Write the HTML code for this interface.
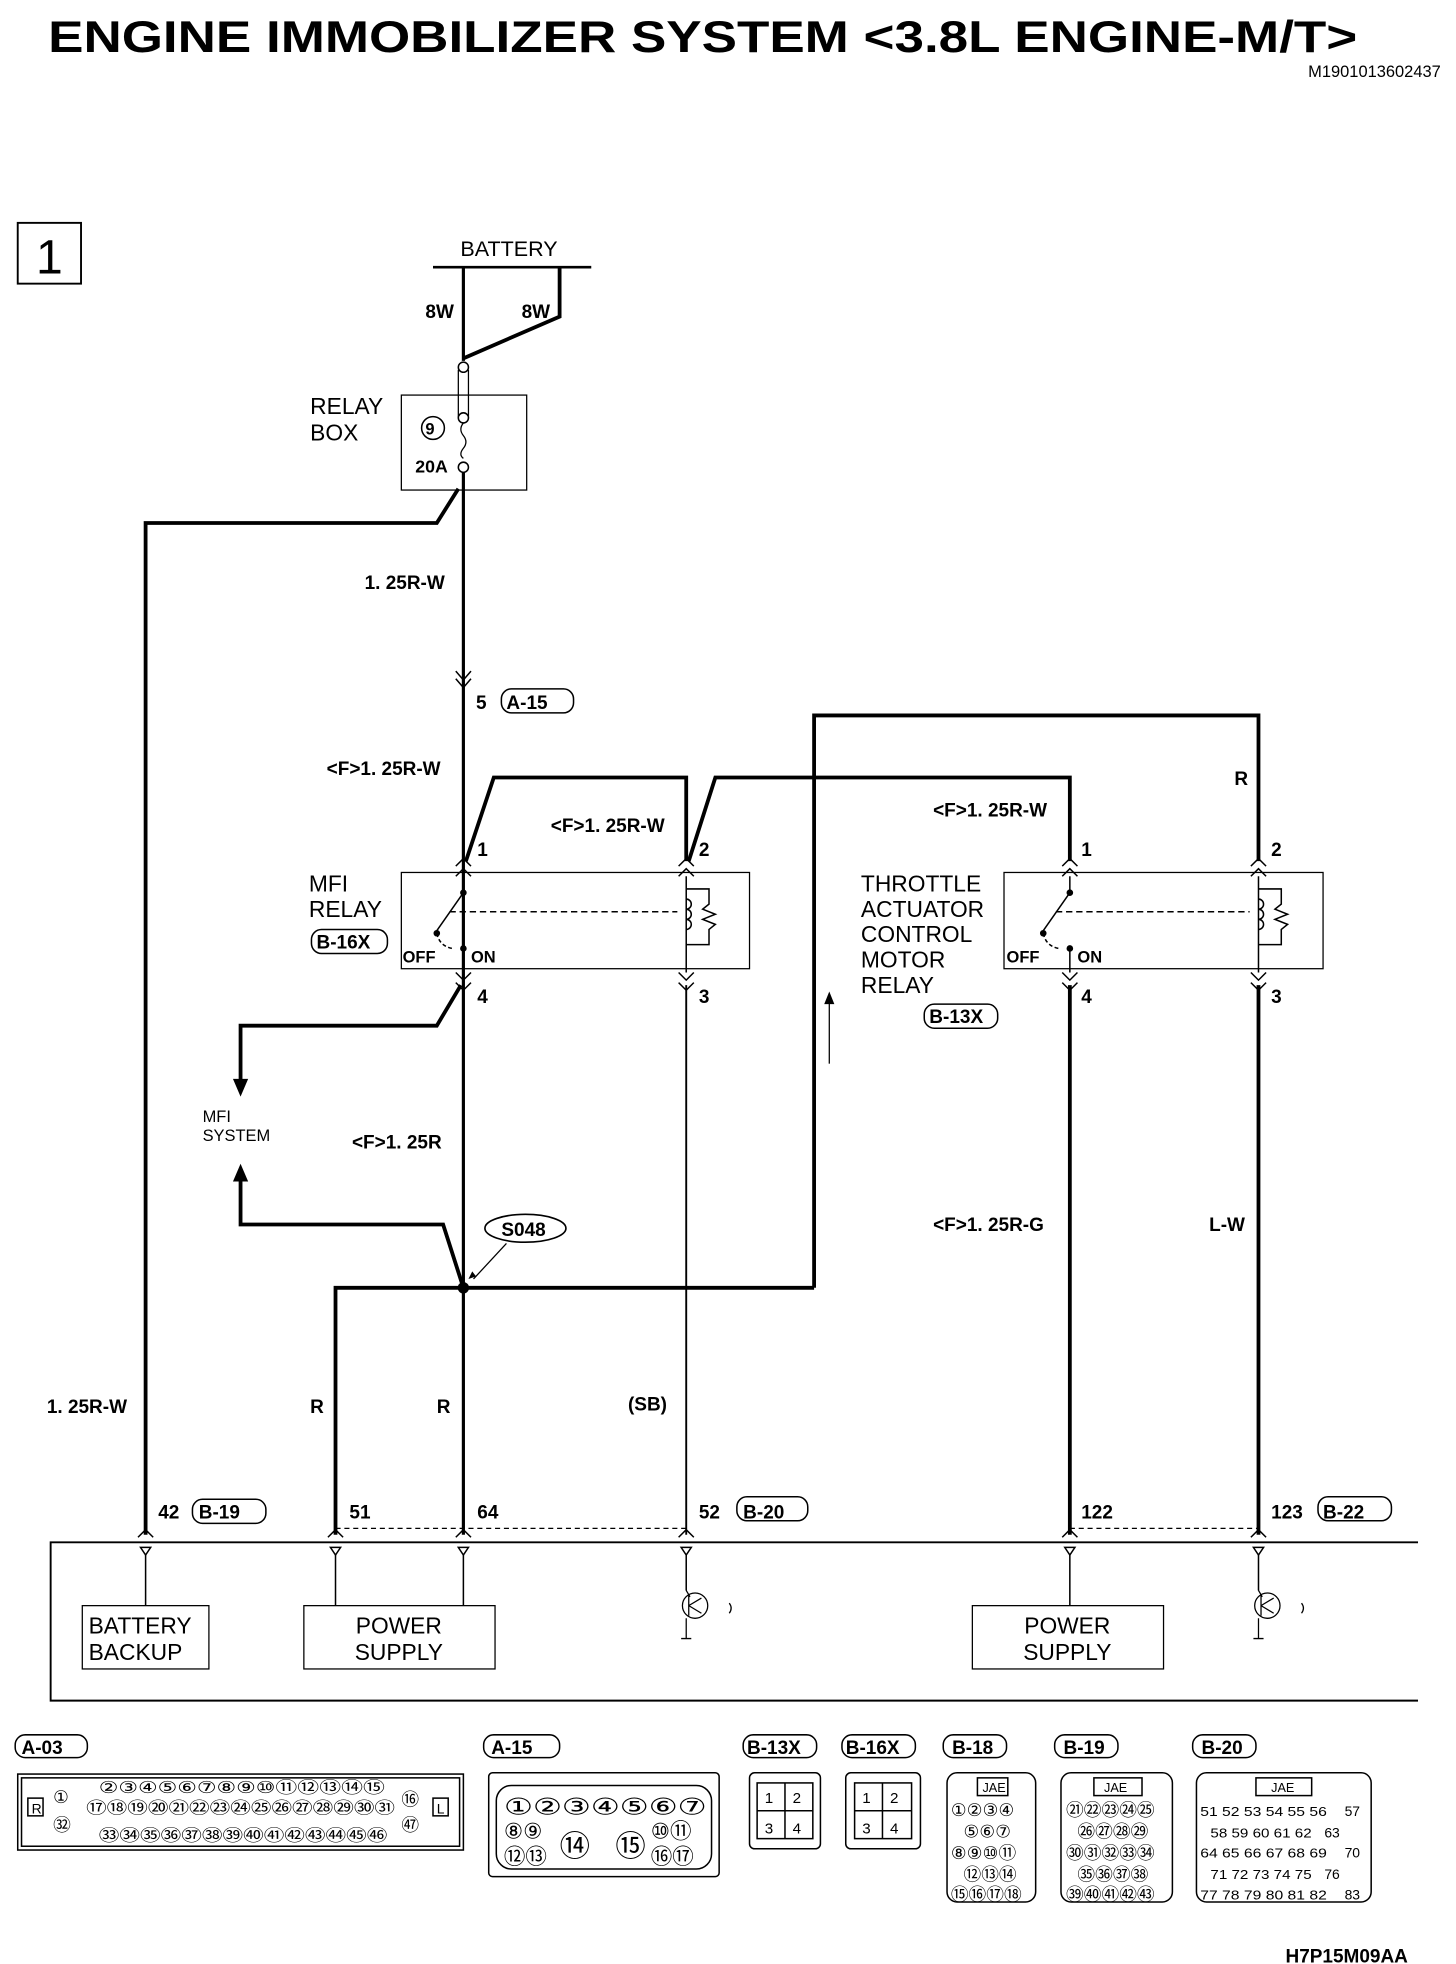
<!DOCTYPE html>
<html><head><meta charset="utf-8"><style>
html,body{margin:0;padding:0;background:#fff}
svg{display:block}
text{font-family:"Liberation Sans",sans-serif;fill:#000}
.c{font-family:"Liberation Sans","Noto Sans CJK JP",sans-serif}
.n{font-family:"Liberation Sans Narrow","Liberation Sans",sans-serif;font-weight:bold}
</style></head><body>
<svg width="1456" height="1964" viewBox="0 0 1150 1551" preserveAspectRatio="none" xmlns="http://www.w3.org/2000/svg">
<g fill="none" stroke="#000">
<!-- header -->
<rect x="14" y="176" width="50" height="48" stroke-width="1.5"/>
<line x1="342" y1="211" x2="467" y2="211" stroke-width="2"/>
<!-- battery wires -->
<polyline points="366,211 366,285" stroke-width="2.5"/>
<polyline points="442,211 442,250 366,283" stroke-width="3"/>
<rect x="317" y="312" width="99" height="75" stroke-width="1"/>
<circle cx="366" cy="290" r="4" fill="#fff" stroke-width="1.2"/>
<line x1="362" y1="292" x2="362" y2="330" stroke-width="1"/><line x1="370" y1="292" x2="370" y2="330" stroke-width="1"/>
<circle cx="366" cy="330" r="4" fill="#fff" stroke-width="1.2"/>
<path d="M366 334 q-4 5 0 10 q4 5 0 10 q-4 5 0 8" stroke-width="1"/>
<circle cx="366" cy="369" r="4" fill="#fff" stroke-width="1.2"/>
<circle cx="342" cy="338" r="9" stroke-width="1.2"/>
<!-- main verticals -->
<line x1="366" y1="373" x2="366" y2="1212" stroke-width="2.5"/>
<polyline points="362,386 345,413 115,413 115,1212" stroke-width="3"/>
<path d="M360 530 l6 7 l6 -7 M360 536 l6 7 l6 -7" stroke-width="1.2"/>
<!-- relay top wiring -->
<polyline points="368,680 390,614 542,614 542,680" stroke-width="3"/>
<polyline points="544,680 565,614 845,614 845,680" stroke-width="3"/>
<polyline points="643,1017 643,565 994,565 994,680" stroke-width="3"/>
<!-- MFI relay -->
<rect x="317" y="689" width="275" height="76" stroke-width="1"/>
<rect x="793" y="689" width="252" height="76" stroke-width="1"/>
<g stroke-width="1.2">
<path d="M360 684 l6 -6 l6 6 M360 692 l6 -6 l6 6 M536 684 l6 -6 l6 6 M536 692 l6 -6 l6 6 M839 684 l6 -6 l6 6 M839 692 l6 -6 l6 6 M988 684 l6 -6 l6 6 M988 692 l6 -6 l6 6"/>
<path d="M360 768 l6 6 l6 -6 M360 776 l6 6 l6 -6 M536 768 l6 6 l6 -6 M536 776 l6 6 l6 -6 M839 768 l6 6 l6 -6 M839 776 l6 6 l6 -6 M988 768 l6 6 l6 -6 M988 776 l6 6 l6 -6"/>
</g>
<!-- switch contacts -->
<g stroke-width="1.2">
<line x1="366" y1="692" x2="366" y2="703"/><circle cx="366" cy="705" r="2" fill="#000"/>
<line x1="366" y1="705" x2="345" y2="735"/><circle cx="345" cy="737" r="2" fill="#000"/>
<path d="M345 737 q2 10 12 12" stroke-dasharray="3,2"/>
<circle cx="366" cy="749" r="2" fill="#000"/><line x1="366" y1="749" x2="366" y2="768"/>
<line x1="355" y1="720" x2="535" y2="720" stroke-dasharray="5,3"/>
<line x1="542" y1="692" x2="542" y2="768"/>
<path d="M542 702 h18 v12 l-5 4 l10 4 l-10 4 l10 4 l-5 4 v12 h-18"/>
<path d="M542 710 a4 4 0 1 1 0 8 a4 4 0 1 1 0 8 a4 4 0 1 1 0 8"/>
<line x1="845" y1="692" x2="845" y2="703"/><circle cx="845" cy="705" r="2" fill="#000"/>
<line x1="845" y1="705" x2="824" y2="735"/><circle cx="824" cy="737" r="2" fill="#000"/>
<path d="M824 737 q2 10 12 12" stroke-dasharray="3,2"/>
<circle cx="845" cy="749" r="2" fill="#000"/><line x1="845" y1="749" x2="845" y2="768"/>
<line x1="834" y1="720" x2="987" y2="720" stroke-dasharray="5,3"/>
<line x1="994" y1="692" x2="994" y2="768"/>
<path d="M994 702 h18 v12 l-5 4 l10 4 l-10 4 l10 4 l-5 4 v12 h-18"/>
<path d="M994 710 a4 4 0 1 1 0 8 a4 4 0 1 1 0 8 a4 4 0 1 1 0 8"/>
</g>
<!-- below relays -->
<polyline points="364,778 345,810 190,810 190,855" stroke-width="3"/>
<polyline points="190,930 190,967 350,967 366,1017" stroke-width="3"/>
<polyline points="265,1212 265,1017 643,1017" stroke-width="3"/>
<line x1="542" y1="778" x2="542" y2="1212" stroke-width="1.5"/>
<line x1="845" y1="778" x2="845" y2="1212" stroke-width="3"/>
<line x1="994" y1="778" x2="994" y2="1212" stroke-width="3"/>
<line x1="655" y1="790" x2="655" y2="840" stroke-width="1"/>
<ellipse cx="415" cy="970" rx="32" ry="11" stroke-width="1.3"/>
<line x1="400" y1="982" x2="374" y2="1010" stroke-width="1"/>
<!-- dashed -->
<line x1="265" y1="1207" x2="542" y2="1207" stroke-dasharray="4,3" stroke-width="1"/>
<line x1="845" y1="1207" x2="994" y2="1207" stroke-dasharray="4,3" stroke-width="1"/>
<g stroke-width="1.2">
<path d="M109 1214 l6 -6 l6 6 M259 1214 l6 -6 l6 6 M360 1214 l6 -6 l6 6 M536 1214 l6 -6 l6 6 M839 1214 l6 -6 l6 6 M988 1214 l6 -6 l6 6"/>
<path d="M111 1222 h8 l-4 6 z M261 1222 h8 l-4 6 z M362 1222 h8 l-4 6 z M538 1222 h8 l-4 6 z M841 1222 h8 l-4 6 z M990 1222 h8 l-4 6 z"/>
<path d="M115 1228 v40 M265 1228 v40 M366 1228 v40 M845 1228 v40 M542 1228 v28 M994 1228 v28"/>
</g>
<polyline points="1120,1218 40,1218 40,1343 1120,1343" stroke-width="1.5"/>
<rect x="65" y="1268" width="100" height="50" stroke-width="1"/>
<rect x="240" y="1268" width="151" height="50" stroke-width="1"/>
<rect x="768" y="1268" width="151" height="50" stroke-width="1"/>
<g stroke-width="1">
<circle cx="549" cy="1268" r="10"/><path d="M544 1260 v16 M542 1256 l3 5 M544 1268 l10 -6 M544 1268 l10 6 M542 1278 v16 M538 1294 h8 M576 1266 q3 4 0 8"/>
<circle cx="1001" cy="1268" r="10"/><path d="M996 1260 v16 M994 1256 l3 5 M996 1268 l10 -6 M996 1268 l10 6 M994 1278 v16 M990 1294 h8 M1028 1266 q3 4 0 8"/>
</g>
<!-- connector boxes -->
<g stroke-width="1.2">
<rect x="12" y="1370" width="57" height="18" rx="8"/>
<rect x="382" y="1370" width="60" height="18" rx="8"/>
<rect x="587" y="1370" width="58" height="18" rx="8"/>
<rect x="665" y="1370" width="58" height="18" rx="8"/>
<rect x="745" y="1370" width="50" height="18" rx="8"/>
<rect x="833" y="1370" width="50" height="18" rx="8"/>
<rect x="942" y="1370" width="50" height="18" rx="8"/>
<rect x="14" y="1401" width="352" height="60"/><rect x="17" y="1404" width="346" height="54"/>
<rect x="386" y="1400" width="182" height="82" rx="3"/><rect x="392" y="1410" width="170" height="66" rx="12"/>
<rect x="592" y="1400" width="56" height="60" rx="4"/><rect x="598" y="1408" width="44" height="44"/><line x1="598" y1="1430" x2="642" y2="1430"/><line x1="620" y1="1408" x2="620" y2="1452"/>
<rect x="668" y="1400" width="59" height="60" rx="4"/><rect x="675" y="1408" width="45" height="44"/><line x1="675" y1="1430" x2="720" y2="1430"/><line x1="697" y1="1408" x2="697" y2="1452"/>
<rect x="748" y="1400" width="70" height="102" rx="8"/><rect x="772" y="1404" width="24" height="14"/>
<rect x="838" y="1400" width="88" height="102" rx="8"/><rect x="864" y="1404" width="38" height="14"/>
<rect x="945" y="1400" width="138" height="102" rx="8"/><rect x="992" y="1404" width="44" height="14"/>
<rect x="22" y="1420" width="12" height="14"/><rect x="342" y="1420" width="12" height="14"/>
</g>
</g>
<!-- filled shapes -->
<circle cx="366" cy="1017" r="4.5" fill="#000"/>
<path d="M184 852 h12 l-6 14 z M184 933 h12 l-6 -14 z M651 793 l4 -10 l4 10 z M370 1010 l6 -2 l-3 -4 z" fill="#000"/>
<!-- text -->
<text x="38" y="41" font-size="35" font-weight="bold" textLength="1034" lengthAdjust="spacingAndGlyphs">ENGINE IMMOBILIZER SYSTEM &lt;3.8L ENGINE-M/T&gt;</text>
<text x="1138" y="61" font-size="13" text-anchor="end">M1901013602437</text>
<text x="39" y="216" font-size="38" text-anchor="middle">1</text>
<text x="402" y="202" font-size="17" text-anchor="middle">BATTERY</text>
<g class="n" font-size="15">
<text x="336" y="251">8W</text><text x="412" y="251">8W</text>
<text x="336" y="343" font-size="13">9</text><text x="328" y="373" font-size="14">20A</text>
<text x="288" y="465">1. 25R-W</text>
<text x="376" y="560">5</text><text x="400" y="560">A-15</text>
<text x="258" y="612">&lt;F&gt;1. 25R-W</text>
<text x="435" y="657">&lt;F&gt;1. 25R-W</text>
<text x="737" y="645">&lt;F&gt;1. 25R-W</text>
<text x="975" y="620">R</text>
<text x="377" y="676">1</text><text x="552" y="676">2</text><text x="854" y="676">1</text><text x="1004" y="676">2</text>
<text x="377" y="792">4</text><text x="552" y="792">3</text><text x="854" y="792">4</text><text x="1004" y="792">3</text>
<text x="318" y="760" font-size="13">OFF</text><text x="372" y="760" font-size="13">ON</text>
<text x="795" y="760" font-size="13">OFF</text><text x="851" y="760" font-size="13">ON</text>
<text x="250" y="749">B-16X</text><text x="734" y="808">B-13X</text>
<text x="278" y="907">&lt;F&gt;1. 25R</text>
<text x="396" y="976">S048</text>
<text x="737" y="972">&lt;F&gt;1. 25R-G</text><text x="955" y="972">L-W</text>
<text x="37" y="1116">1. 25R-W</text><text x="245" y="1116">R</text><text x="345" y="1116">R</text><text x="496" y="1114">(SB)</text>
<text x="125" y="1199">42</text><text x="157" y="1199">B-19</text>
<text x="276" y="1199">51</text><text x="377" y="1199">64</text>
<text x="552" y="1199">52</text><text x="587" y="1199">B-20</text>
<text x="854" y="1199">122</text><text x="1004" y="1199">123</text><text x="1045" y="1199">B-22</text>
<text x="17" y="1385">A-03</text><text x="388" y="1385">A-15</text><text x="590" y="1385">B-13X</text><text x="668" y="1385">B-16X</text>
<text x="752" y="1385">B-18</text><text x="840" y="1385">B-19</text><text x="949" y="1385">B-20</text>
<text x="1112" y="1550" text-anchor="end">H7P15M09AA</text>
</g>
<g fill="none" stroke="#000" stroke-width="1.2">
<rect x="396" y="544" width="57" height="19" rx="8"/><rect x="152" y="1184" width="58" height="19" rx="8"/>
<rect x="582" y="1182" width="56" height="19" rx="8"/><rect x="1041" y="1182" width="58" height="19" rx="8"/>
<rect x="246" y="734" width="60" height="19" rx="8"/><rect x="730" y="793" width="58" height="19" rx="8"/>
</g>
<g font-size="18">
<text x="245" y="327">RELAY</text><text x="245" y="348">BOX</text>
<text x="244" y="704">MFI</text><text x="244" y="724">RELAY</text>
<text x="680" y="704">THROTTLE</text><text x="680" y="724">ACTUATOR</text><text x="680" y="744">CONTROL</text><text x="680" y="764">MOTOR</text><text x="680" y="784">RELAY</text>
<text x="160" y="886" font-size="13">MFI</text><text x="160" y="901" font-size="13">SYSTEM</text>
<text x="70" y="1290">BATTERY</text><text x="70" y="1311">BACKUP</text>
<text x="315" y="1290" text-anchor="middle">POWER</text><text x="315" y="1311" text-anchor="middle">SUPPLY</text>
<text x="843" y="1290" text-anchor="middle">POWER</text><text x="843" y="1311" text-anchor="middle">SUPPLY</text>
</g>
<!-- connector pin numbers -->
<g class="c" font-size="14">
<text x="25" y="1432" font-size="11">R</text><text x="345" y="1432" font-size="11">L</text>
<text x="42" y="1424">①</text><text x="42" y="1446">㉜</text>
<text x="78" y="1416" font-size="13" textLength="226" lengthAdjust="spacingAndGlyphs">②③④⑤⑥⑦⑧⑨⑩⑪⑫⑬⑭⑮</text>
<text x="68" y="1432" font-size="13" textLength="244" lengthAdjust="spacingAndGlyphs">⑰⑱⑲⑳㉑㉒㉓㉔㉕㉖㉗㉘㉙㉚㉛</text>
<text x="78" y="1454" font-size="13" textLength="228" lengthAdjust="spacingAndGlyphs">㉝㉞㉟㊱㊲㊳㊴㊵㊶㊷㊸㊹㊺㊻</text>
<text x="317" y="1426">⑯</text><text x="317" y="1446">㊼</text>
<text x="398" y="1433" font-size="18" textLength="160" lengthAdjust="spacingAndGlyphs">①②③④⑤⑥⑦</text>
<text x="398" y="1452" font-size="17">⑧⑨</text><text x="514" y="1452" font-size="17">⑩⑪</text>
<text x="398" y="1472" font-size="17">⑫⑬</text><text x="514" y="1472" font-size="17">⑯⑰</text>
<text x="442" y="1466" font-size="24">⑭</text><text x="486" y="1466" font-size="24">⑮</text>
<text x="604" y="1424" font-size="12">1</text><text x="626" y="1424" font-size="12">2</text><text x="604" y="1448" font-size="12">3</text><text x="626" y="1448" font-size="12">4</text>
<text x="681" y="1424" font-size="12">1</text><text x="703" y="1424" font-size="12">2</text><text x="681" y="1448" font-size="12">3</text><text x="703" y="1448" font-size="12">4</text>
<text x="776" y="1415" font-size="10">JAE</text><text x="872" y="1415" font-size="10">JAE</text><text x="1004" y="1415" font-size="10">JAE</text>
<text x="751" y="1434" font-size="14">①②③④</text><text x="761" y="1451" font-size="14">⑤⑥⑦</text>
<text x="751" y="1468" font-size="14">⑧⑨⑩⑪</text><text x="761" y="1485" font-size="14">⑫⑬⑭</text><text x="751" y="1501" font-size="14">⑮⑯⑰⑱</text>
<text x="842" y="1434" font-size="14">㉑㉒㉓㉔㉕</text><text x="851" y="1451" font-size="14">㉖㉗㉘㉙</text>
<text x="842" y="1468" font-size="14">㉚㉛㉜㉝㉞</text><text x="851" y="1485" font-size="14">㉟㊱㊲㊳</text><text x="842" y="1501" font-size="14">㊴㊵㊶㊷㊸</text>
<text x="948" y="1434" font-size="10" textLength="100" lengthAdjust="spacingAndGlyphs">51 52 53 54 55 56</text><text x="1062" y="1434" font-size="11">57</text>
<text x="956" y="1451" font-size="10" textLength="80" lengthAdjust="spacingAndGlyphs">58 59 60 61 62</text><text x="1046" y="1451" font-size="11">63</text>
<text x="948" y="1467" font-size="10" textLength="100" lengthAdjust="spacingAndGlyphs">64 65 66 67 68 69</text><text x="1062" y="1467" font-size="11">70</text>
<text x="956" y="1484" font-size="10" textLength="80" lengthAdjust="spacingAndGlyphs">71 72 73 74 75</text><text x="1046" y="1484" font-size="11">76</text>
<text x="948" y="1500" font-size="10" textLength="100" lengthAdjust="spacingAndGlyphs">77 78 79 80 81 82</text><text x="1062" y="1500" font-size="11">83</text>
</g>
</svg>
</body></html>
